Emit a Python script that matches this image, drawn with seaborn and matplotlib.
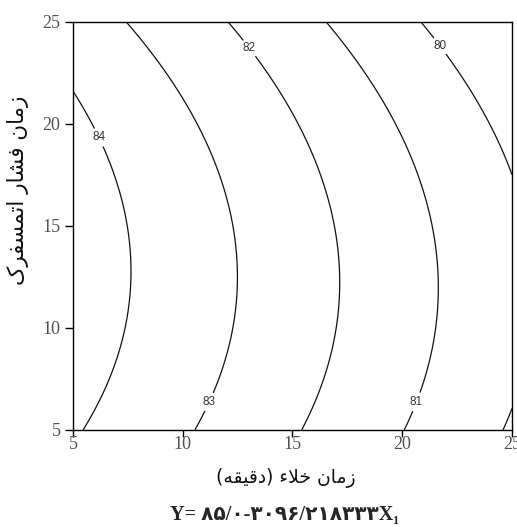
import matplotlib

matplotlib.use("Agg")
import numpy as np
import seaborn as sns
from matplotlib import pyplot as plt

# second-order response surface, coefficients estimated from the contour lines
b0 = 84.27
b1 = -0.178  # vacuum time
b2 = 0.185  # atmospheric pressure time
b11 = -0.0009
b22 = -0.007
b12 = -0.0008

levels = [79, 80, 81, 82, 83, 84]
x_ticks = [5, 10, 15, 20, 25]
y_ticks = [5, 10, 15, 20, 25]

x_label = "زمان خلاء (دقیقه)"
y_label = "زمان فشار اتمسفرک"
equation = "Y= ۸۵/۰-۳۰۹۶/۲۱۸۳۳۳X₁"

# presentation forms: isolated, final, initial, medial
ARABIC_FORMS = {
    "ا": "\ufe8d\ufe8e",
    "ء": "\ufe80",
    "د": "\ufea9\ufeaa",
    "ر": "\ufead\ufeae",
    "ز": "\ufeaf\ufeb0",
    "ت": "\ufe95\ufe96\ufe97\ufe98",
    "خ": "\ufea5\ufea6\ufea7\ufea8",
    "س": "\ufeb1\ufeb2\ufeb3\ufeb4",
    "ش": "\ufeb5\ufeb6\ufeb7\ufeb8",
    "ف": "\ufed1\ufed2\ufed3\ufed4",
    "ق": "\ufed5\ufed6\ufed7\ufed8",
    "ل": "\ufedd\ufede\ufedf\ufee0",
    "م": "\ufee1\ufee2\ufee3\ufee4",
    "ن": "\ufee5\ufee6\ufee7\ufee8",
    "ه": "\ufee9\ufeea\ufeeb\ufeec",
    "ی": "\ufbfc\ufbfd\ufbfe\ufbff",
    "ک": "\ufb8e\ufb8f\ufb90\ufb91",
}
LAM_ALEF = "\ufefb\ufefc"


def joins_forward(c: str) -> bool:
    return len(ARABIC_FORMS.get(c, "")) == 4


def joins_back(c: str) -> bool:
    return len(ARABIC_FORMS.get(c, "")) >= 2


def shape_rtl(text: str) -> str:
    # matplotlib has no arabic shaping, so pick the glyph forms by hand
    out = []
    i = 0
    while i < len(text):
        c = text[i]
        if c not in ARABIC_FORMS:
            out.append(c)
            i += 1
            continue
        prev = text[i - 1] if i > 0 else ""
        connect_prev = joins_forward(prev) and joins_back(c)
        if c == "ل" and text[i + 1 : i + 2] == "ا":
            out.append(LAM_ALEF[1 if connect_prev else 0])
            i += 2
            continue
        nxt = text[i + 1] if i + 1 < len(text) else ""
        connect_next = joins_forward(c) and joins_back(nxt)
        forms = ARABIC_FORMS[c]
        if connect_prev and connect_next:
            out.append(forms[3])
        elif connect_prev:
            out.append(forms[1])
        elif connect_next:
            out.append(forms[2])
        else:
            out.append(forms[0])
        i += 1
    visual = "".join(reversed(out))
    return visual.translate(str.maketrans("()", ")("))


sns.set_style("ticks")
plt.rcParams["font.family"] = ["Liberation Serif", "DejaVu Sans"]

fig = plt.figure(figsize=(5.17, 5.27), dpi=100)
ax = fig.add_axes([0.1412, 0.1841, 0.8491, 0.7742])

xs = np.linspace(5, 25, 301)
ys = np.linspace(5, 25, 301)
X, Y = np.meshgrid(xs, ys)
Z = b0 + b1 * X + b2 * Y + b11 * X**2 + b22 * Y**2 + b12 * X * Y

cs = ax.contour(X, Y, Z, levels=levels, colors="#111111", linewidths=0.9)
label_spots = [(6.1, 19.3), (11.15, 6.4), (12.9, 23.6), (20.6, 6.4), (21.45, 23.6)]
labels = ax.clabel(cs, inline=True, fmt="%d", fontsize=8.5, colors="#333333",
                   manual=label_spots, inline_spacing=4)
for t in labels:
    t.set_family("Liberation Sans")
    t.set_rotation(0)

ax.set_xlim(5, 25)
ax.set_ylim(5, 25)
ax.set_xticks(x_ticks)
ax.set_yticks(y_ticks)
for side in ["top", "right", "left", "bottom"]:
    ax.spines[side].set_visible(True)
    ax.spines[side].set_color("black")
    ax.spines[side].set_linewidth(1.0)
ax.tick_params(axis="x", direction="out", length=5, width=1, pad=-1,
               labelsize=13, labelcolor="#505050", color="black")
ax.tick_params(axis="y", direction="out", length=6, width=1, pad=3,
               labelsize=13, labelcolor="#505050", color="black")

ax.set_xlabel(shape_rtl(x_label), fontsize=13.5, family="DejaVu Sans", color="#111111")
ax.set_ylabel(shape_rtl(y_label), fontsize=15.5, family="DejaVu Sans", color="#111111")
ax.xaxis.set_label_coords(0.485, -0.093)
ax.yaxis.set_label_coords(-0.1, 0.588)

fig.text(0.55, 0.013, equation, ha="center", va="baseline", fontsize=14.5,
         fontweight="bold", family=["Liberation Serif", "DejaVu Sans"])

fig.savefig("out.png", dpi=100)
